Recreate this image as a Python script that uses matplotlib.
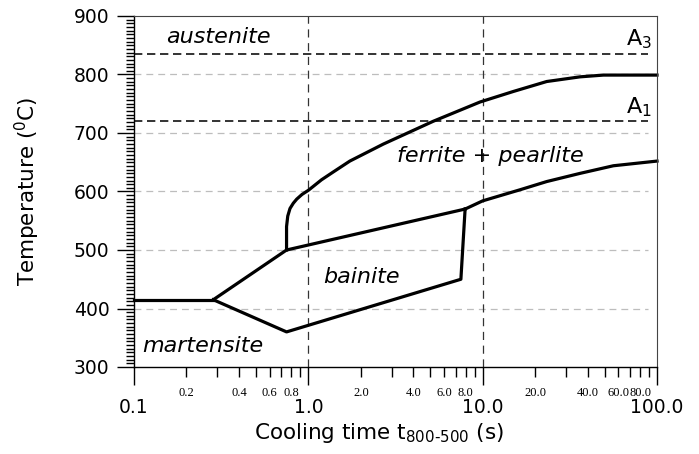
import matplotlib
matplotlib.use("Agg")
import matplotlib.pyplot as plt
from matplotlib.ticker import LogLocator, FuncFormatter, MultipleLocator, AutoMinorLocator

# phase boundaries (time in s, temperature in degC)
ms_time = [0.1, 0.285]
ms_temp = [415, 415]

bs_time = [0.285, 0.75, 7.93]
bs_temp = [415, 500, 570]

bf_time = [0.285, 0.75, 7.5, 7.93]
bf_temp = [415, 360, 450, 570]

fs_time = [0.75, 0.75, 0.762, 0.785, 0.82, 0.858, 0.92, 1.0, 1.19, 1.4, 1.73, 2.69, 5.2, 9.66, 15.0, 23.3, 36.2, 49.3, 100.0]
fs_temp = [500, 540, 558, 571, 580, 587, 595, 602, 620, 634, 652, 681, 720, 753, 771, 788, 796, 799, 799]

pf_time = [7.93, 10.0, 16.4, 23.3, 36.2, 56.2, 100.0]
pf_temp = [570, 584, 603, 617, 631, 644, 652]

a3_temp = 835
a1_temp = 720
grid_temps = [400, 500, 600, 700, 800]
decade_lines = [1.0, 10.0]

fig = plt.figure(figsize=(6.99, 4.54), dpi=100)
ax = fig.add_axes([134 / 699, 1 - 367 / 454, 523 / 699, 351 / 454])

# background guide lines
ax.hlines(grid_temps, 0.1, 89, colors="#bdbdbd", linewidth=0.9, linestyles=(0, (5.5, 4)))
for t in decade_lines:
    ax.axvline(t, color="#333333", linewidth=0.9, linestyle=(0, (6.5, 4.5)))
ax.hlines([a3_temp, a1_temp], 0.1, 89, colors="#111111", linewidth=1.2, linestyles=(0, (5, 2.8)))

lw = 2.3
for xs, ys in [(ms_time, ms_temp), (bs_time, bs_temp), (bf_time, bf_temp),
               (fs_time, fs_temp), (pf_time, pf_temp)]:
    ax.plot(xs, ys, color="black", linewidth=lw, solid_joinstyle="round", clip_on=False)

ax.set_xscale("log")
ax.set_xlim(0.1, 100)
ax.set_ylim(300, 900)

# x axis ticks
ax.xaxis.set_major_locator(LogLocator(base=10, numticks=10))
ax.xaxis.set_minor_locator(LogLocator(base=10, subs=range(2, 10), numticks=20))
ax.xaxis.set_major_formatter(FuncFormatter(lambda v, p: f"{v:.1f}"))


def minor_fmt(v, p):
    lead = round(v / 10 ** int(f"{v:e}".split("e")[1]))
    return f"{v:.1f}" if lead in (2, 4, 6, 8) else ""


ax.xaxis.set_minor_formatter(FuncFormatter(minor_fmt))
ax.tick_params(axis="x", which="major", length=13, width=1, pad=9, labelsize=13.5)
ax.tick_params(axis="x", which="minor", length=7.2, width=1, pad=7, labelsize=9,
               labelfontfamily="Liberation Serif")

# y axis ticks
ax.yaxis.set_major_locator(MultipleLocator(100))
ax.yaxis.set_minor_locator(AutoMinorLocator(16))
ax.tick_params(axis="y", which="major", length=12.2, width=1, pad=5.5, labelsize=13.5)
ax.tick_params(axis="y", which="minor", length=5.8, width=1)

for s in ["top", "right"]:
    ax.spines[s].set_linewidth(0.8)
    ax.spines[s].set_color("#444444")
for s in ["left", "bottom"]:
    ax.spines[s].set_linewidth(1.0)

ax.set_ylabel("Temperature ($^0$C)", fontsize=15.5)
ax.yaxis.set_label_coords(-0.175, 0.5)
ax.set_xlabel(r"Cooling time t$_{800\text{-}500}$ (s)", fontsize=15.5)
ax.xaxis.set_label_coords(0.4675, -0.154)

# phase labels
kw = dict(fontsize=16, style="italic", ha="center", va="baseline")
ax.text(0.304, 853, "austenite", **kw)
ax.text(11.0, 651, "ferrite + pearlite", **kw)
ax.text(2.02, 443, "bainite", **kw)
ax.text(0.249, 325, "martensite", **kw)
ax.text(93, 850, "A$_3$", fontsize=16, ha="right", va="baseline")
ax.text(93, 734, "A$_1$", fontsize=16, ha="right", va="baseline")

fig.savefig("out.png", dpi=100)
